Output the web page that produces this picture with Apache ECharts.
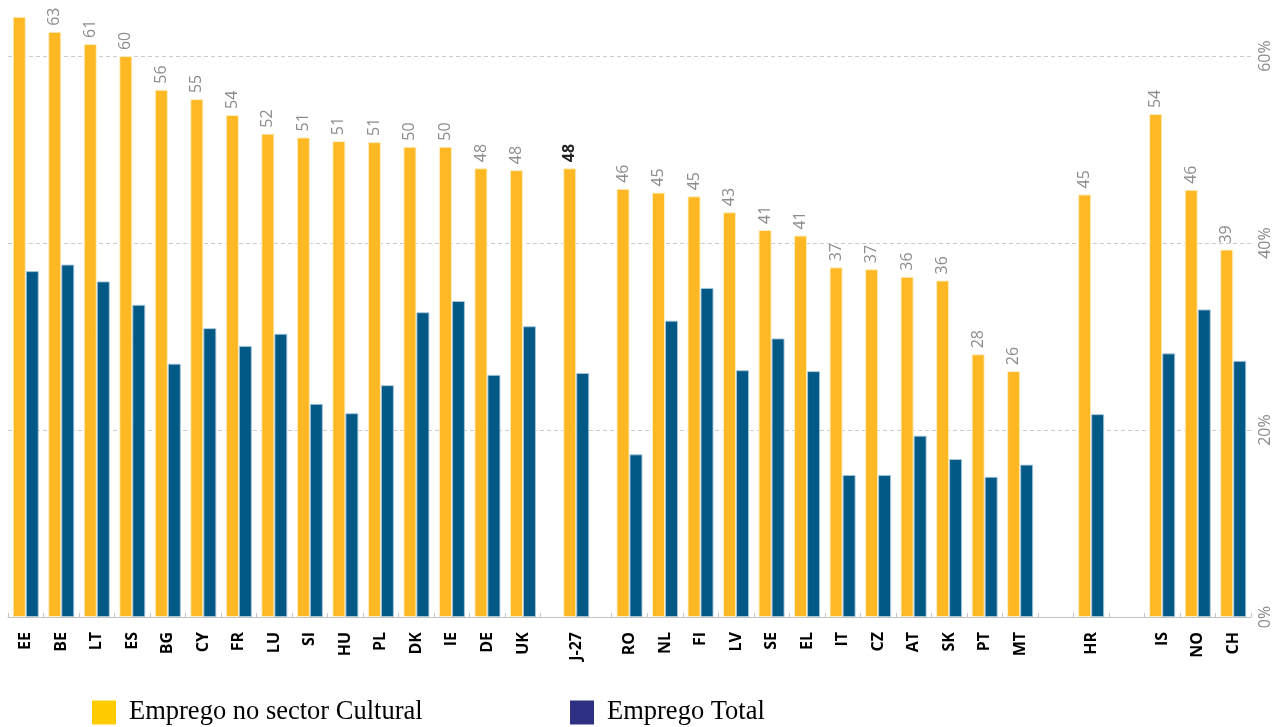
<!DOCTYPE html>
<html>
<head>
<meta charset="utf-8">
<title>Emprego no sector Cultural vs Emprego Total</title>
<script src="https://cdn.jsdelivr.net/npm/echarts@6/dist/echarts.min.js"></script>
<style>
  html, body { margin: 0; padding: 0; background: #ffffff; }
  #chart { width: 1273px; height: 727px; }
</style>
</head>
<body>
<div id="chart"></div>
<script>
// Country codes, left to right
const countries = ['EE', 'BE', 'LT', 'ES', 'BG', 'CY', 'FR', 'LU', 'SI', 'HU', 'PL', 'DK', 'IE', 'DE', 'UK',
  'J-27',
  'RO', 'NL', 'FI', 'LV', 'SE', 'EL', 'IT', 'CZ', 'AT', 'SK', 'PT', 'MT',
  'HR',
  'IS', 'NO', 'CH'];

// Share of employment (%) in the cultural sector
const culturalEmployment = [64.2, 62.6, 61.3, 60.0, 56.4, 55.4, 53.7, 51.7, 51.3, 50.9, 50.8, 50.3, 50.3, 48.0, 47.8,
  48.0,
  45.8, 45.4, 45.0, 43.3, 41.4, 40.8, 37.4, 37.2, 36.4, 36.0, 28.1, 26.3,
  45.2,
  53.8, 45.7, 39.3];

// Share of employment (%) in total employment
const totalEmployment = [37.0, 37.7, 35.9, 33.4, 27.1, 30.9, 29.0, 30.3, 22.8, 21.8, 24.8, 32.6, 33.8, 25.9, 31.1,
  26.1,
  17.4, 31.7, 35.2, 26.4, 29.8, 26.3, 15.2, 15.2, 19.4, 16.9, 15.0, 16.3,
  21.7,
  28.2, 32.9, 27.4];

// Value axis tick labels
const yTicks = [0, 20, 40, 60];

const seriesNames = ['Emprego no sector Cultural', 'Emprego Total'];

// Extra empty space (in slot widths) following a group of countries
const gapAfter = { 'UK': 0.5, 'J-27': 0.5, 'MT': 1, 'HR': 1 };
const aggregate = 'J-27';

// Slot centres along the x axis
const slotCentre = [];
let cursor = 0.5;
countries.forEach(function (c) {
  slotCentre.push(cursor);
  cursor += 1 + (gapAfter[c] || 0);
});
const slotCount = Math.round(cursor - 0.5);

const labelAt = {};
countries.forEach(function (c, i) { labelAt[Math.round(slotCentre[i] * 2)] = c; });

const culturalData = countries.map(function (c, i) {
  const item = { value: [slotCentre[i], culturalEmployment[i]] };
  if (c === aggregate) {
    item.label = { color: '#222222', fontWeight: 'bold' };
  }
  if (i === 0) {
    item.label = { show: false };
  }
  return item;
});
const totalData = countries.map(function (c, i) { return [slotCentre[i], totalEmployment[i]]; });

const baseFont = 'Open Sans';

function legendFor(name, left, color) {
  return {
    left: left,
    top: 699,
    padding: 0,
    icon: 'rect',
    itemWidth: 24,
    itemHeight: 24,
    textStyle: { fontFamily: 'Liberation Serif', fontSize: 26.5, color: '#000000', padding: [6, 0, 0, 8] },
    data: [{ name: name, itemStyle: { color: color, borderWidth: 0 } }]
  };
}

const chart = echarts.init(document.getElementById('chart'), null, { renderer: 'canvas' });

chart.setOption({
  animation: false,
  backgroundColor: '#ffffff',
  grid: { left: 8, right: 20, top: 0, bottom: 110, containLabel: false },
  xAxis: [
    {
      type: 'value',
      min: 0,
      max: slotCount,
      interval: 1,
      position: 'bottom',
      axisLine: { show: true, lineStyle: { color: '#c4c4c4', width: 1 } },
      axisTick: { show: true, inside: true, length: 4, lineStyle: { color: '#c4c4c4' } },
      axisLabel: { show: false },
      splitLine: { show: false }
    },
    {
      type: 'value',
      min: 0,
      max: slotCount,
      interval: 0.5,
      position: 'bottom',
      axisLine: { show: false },
      axisTick: { show: false },
      splitLine: { show: false },
      axisLabel: {
        show: true,
        rotate: 90,
        margin: 15,
        showMinLabel: true,
        showMaxLabel: true,
        fontFamily: baseFont,
        fontWeight: 'bold',
        fontSize: 16,
        color: '#000000',
        formatter: function (v) { return labelAt[Math.round(v * 2)] || ''; }
      }
    }
  ],
  yAxis: {
    type: 'value',
    position: 'right',
    min: 0,
    max: 66,
    interval: 20,
    axisLine: { show: false },
    axisTick: { show: false },
    splitLine: { show: true, showMaxLine: false, lineStyle: { color: '#cccccc', type: [4, 3], width: 1 } },
    axisLabel: {
      rotate: 90,
      margin: 6,
      showMaxLabel: false,
      fontFamily: baseFont,
      fontSize: 16,
      color: '#8a8a8a',
      formatter: function (v) { return yTicks.indexOf(v) >= 0 ? v + '%' : ''; }
    }
  },
  legend: [
    legendFor(seriesNames[0], 92, '#FFCC00'),
    legendFor(seriesNames[1], 570, '#2E3084')
  ],
  series: [
    {
      name: seriesNames[0],
      type: 'bar',
      xAxisIndex: 0,
      barWidth: 13,
      barGap: '0%',
      itemStyle: { color: '#FDB823', borderColor: 'rgba(255,240,200,0.9)', borderWidth: 1 },
      label: {
        show: true,
        position: 'top',
        rotate: 90,
        align: 'left',
        verticalAlign: 'middle',
        distance: 6,
        fontFamily: baseFont,
        fontSize: 16,
        color: '#8c8c8c',
        formatter: function (p) { return Math.round(p.value[1]); }
      },
      data: culturalData
    },
    {
      name: seriesNames[1],
      type: 'bar',
      xAxisIndex: 0,
      barWidth: 13,
      barGap: '0%',
      itemStyle: { color: '#035985', borderColor: 'rgba(170,200,220,0.9)', borderWidth: 1 },
      data: totalData
    }
  ]
});
</script>
</body>
</html>
